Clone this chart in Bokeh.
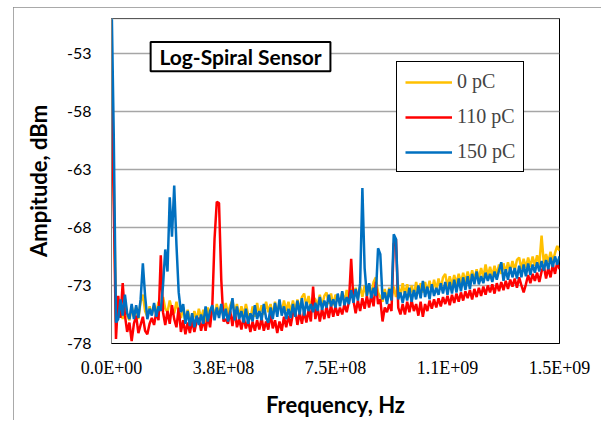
from bokeh.plotting import figure
from bokeh.models import Range1d, FixedTicker, BoxAnnotation, Label, Span
from bokeh.embed import file_html
from bokeh.resources import INLINE

# ---- data ----
freq_step_hz = 7.5e6
series_names = ["0 pC", "110 pC", "150 pC"]
series_colors = ["#FFC000", "#FF0000", "#0070C0"]

amp_0pc = [
    -53.0, -64.0, -76.0, -75.6, -74.5, -75.9, -74.2, -75.6, -76.0, -74.8,
    -75.7, -74.9, -75.9, -74.4, -73.8, -75.2, -75.7, -74.8, -75.5, -74.7,
    -75.4, -74.4, -75.2, -74.0, -75.0, -75.3, -74.3, -75.1, -75.4, -74.4,
    -75.3, -75.8, -74.9, -76.1, -75.1, -75.9, -76.2, -75.2, -76.0, -75.0,
    -75.9, -75.1, -76.1, -74.9, -75.8, -74.8, -75.7, -74.6, -75.5, -74.7,
    -75.6, -74.5, -75.5, -74.7, -74.3, -75.4, -74.6, -75.7, -74.8, -75.6,
    -74.6, -75.5, -75.9, -74.8, -75.7, -74.5, -75.6, -74.7, -75.5, -74.4,
    -75.3, -74.6, -75.6, -74.4, -75.4, -74.5, -75.3, -74.3, -75.2, -74.4,
    -75.3, -74.3, -75.2, -74.2, -75.1, -74.0, -73.7, -74.8, -73.9, -74.9,
    -74.0, -74.2, -74.7, -73.8, -74.8, -73.9, -73.6, -74.6, -73.7, -74.7,
    -73.8, -74.0, -74.5, -73.6, -74.4, -73.4, -74.3, -73.3, -74.2, -73.2,
    -74.1, -73.1, -74.0, -73.0, -73.9, -72.9, -73.8, -72.7, -72.3, -73.6,
    -74.0, -74.4, -73.3, -74.2, -73.2, -74.1, -73.1, -74.0, -73.0, -73.9,
    -72.8, -73.8, -72.9, -74.0, -73.0, -73.9, -72.7, -73.7, -72.8, -73.6,
    -72.7, -73.6, -72.6, -73.5, -72.5, -73.4, -72.4, -73.3, -72.3, -72.0,
    -73.1, -72.2, -73.0, -72.1, -72.9, -72.0, -72.8, -71.9, -72.7, -71.8,
    -72.6, -71.7, -72.5, -71.6, -72.4, -71.5, -72.3, -71.2, -72.2, -71.4,
    -72.2, -71.3, -72.1, -71.2, -72.0, -71.1, -71.9, -71.0, -71.8, -70.9,
    -71.7, -70.8, -70.6, -71.6, -70.7, -71.5, -70.6, -71.4, -70.5, -71.3,
    -70.4, -71.2, -68.7, -71.1, -70.3, -71.0, -70.1, -70.9, -70.2, -69.6, -70.0,
]

amp_110pc = [
    -56.0, -66.0, -77.6, -73.9, -75.8, -72.8, -75.6, -77.0, -76.2, -77.8,
    -76.3, -75.6, -77.1, -76.4, -75.7, -76.9, -77.2, -76.3, -75.8, -76.4,
    -75.3, -76.0, -70.4, -75.3, -76.4, -75.2, -76.3, -74.7, -75.9, -76.6,
    -74.9, -77.0, -76.0, -77.2, -76.2, -77.1, -76.0, -77.0, -76.1, -75.8,
    -76.9, -75.9, -76.9, -75.6, -76.6, -74.8, -69.0, -65.8, -65.9, -72.5,
    -76.1, -75.9, -76.3, -75.2, -76.5, -75.1, -76.6, -75.9, -76.8, -75.7,
    -76.7, -76.0, -77.0, -76.1, -76.9, -76.0, -76.8, -75.8, -76.9, -76.1,
    -76.8, -75.4, -76.7, -76.0, -77.1, -76.1, -76.9, -75.7, -76.6, -75.6,
    -76.5, -75.4, -75.1, -76.4, -75.3, -76.3, -75.2, -76.2, -75.1, -76.1,
    -73.1, -75.9, -74.9, -76.1, -75.0, -75.9, -74.8, -75.8, -74.7, -75.7,
    -74.8, -75.6, -74.9, -75.5, -74.6, -75.3, -74.4, -70.7, -74.3, -75.4,
    -74.3, -75.2, -74.1, -75.0, -73.9, -74.9, -73.8, -74.8, -72.7, -74.6,
    -74.2, -76.1, -74.9, -75.3, -74.6, -75.2, -69.4, -69.0, -74.9, -75.5,
    -74.6, -75.5, -74.4, -75.3, -74.3, -75.2, -74.6, -75.6, -74.4, -75.7,
    -74.6, -75.2, -74.3, -75.0, -74.2, -74.9, -74.1, -74.8, -74.0, -74.6,
    -73.9, -74.7, -73.8, -74.5, -73.7, -74.4, -73.6, -74.3, -73.5, -74.1,
    -73.4, -74.2, -73.3, -74.0, -73.2, -73.9, -73.1, -73.8, -73.0, -73.6,
    -72.9, -73.7, -72.8, -73.5, -72.7, -73.4, -72.6, -73.3, -72.5, -73.1,
    -72.4, -73.2, -72.3, -73.0, -73.6, -72.9, -72.1, -72.8, -72.0, -72.6,
    -71.9, -72.7, -71.8, -71.3, -72.4, -71.5, -72.3, -71.2, -72.0, -71.0, -71.6,
]

amp_150pc = [
    -48.0, -60.0, -76.2, -75.9, -74.2, -75.6, -73.8, -75.4, -75.9, -74.6,
    -75.9, -74.7, -75.8, -74.2, -71.1, -73.9, -75.9, -75.0, -75.6, -74.5,
    -75.7, -74.8, -75.2, -73.0, -69.9, -71.8, -65.4, -68.8, -64.4, -69.5,
    -73.6, -75.3, -74.6, -76.3, -75.2, -76.5, -75.4, -76.6, -75.6, -76.4,
    -75.5, -76.3, -74.8, -76.1, -75.2, -74.7, -76.0, -74.9, -75.8, -74.6,
    -75.9, -75.0, -76.1, -75.3, -74.1, -76.0, -74.8, -75.9, -75.2, -76.2,
    -75.0, -76.3, -75.4, -76.1, -74.7, -75.9, -75.2, -76.0, -74.6, -75.8,
    -76.2, -74.9, -75.9, -74.5, -75.7, -74.2, -75.6, -74.8, -75.9, -75.0,
    -75.8, -74.6, -75.7, -74.3, -75.5, -74.1, -75.6, -74.4, -75.2, -74.6,
    -75.3, -74.5, -75.2, -74.0, -75.1, -74.3, -74.9, -73.8, -74.8, -74.2,
    -74.9, -73.7, -74.8, -73.5, -74.7, -74.0, -74.6, -73.4, -74.5, -73.3,
    -74.3, -72.8, -64.6, -71.5, -73.9, -72.8, -74.1, -73.2, -73.9, -69.8,
    -70.3, -74.2, -73.6, -74.6, -73.3, -74.3, -68.6, -69.0, -74.2, -73.6,
    -74.5, -73.5, -74.3, -73.2, -74.4, -73.4, -74.2, -73.0, -74.1, -72.6,
    -74.0, -73.1, -74.2, -72.9, -73.9, -73.2, -73.8, -72.8, -73.7, -72.7,
    -73.8, -72.7, -73.7, -72.5, -73.6, -72.4, -73.5, -72.3, -73.4, -72.2,
    -73.3, -72.0, -72.9, -71.8, -72.9, -72.2, -72.8, -71.9, -72.6, -72.0,
    -72.7, -71.8, -72.5, -71.7, -71.0, -72.6, -71.6, -72.5, -71.4, -72.3,
    -71.5, -72.4, -71.3, -72.3, -71.2, -72.2, -71.1, -72.1, -71.2, -71.9,
    -71.0, -71.8, -70.9, -71.7, -70.8, -71.6, -70.6, -71.4, -70.5, -71.2, -70.5,
]

freq_hz = [i * freq_step_hz for i in range(len(amp_150pc))]

x_ticks = [0.0, 3.75e8, 7.5e8, 1.125e9, 1.5e9]
x_tick_labels = ["0.0E+00", "3.8E+08", "7.5E+08", "1.1E+09", "1.5E+09"]
y_ticks = [-78, -73, -68, -63, -58, -53]
y_tick_labels = ["-78", "-73", "-68", "-63", "-58", "-53"]

# ---- figure (placed at 13,7 inside the page; gray chart-area frame via CSS outline) ----
p = figure(width=588, height=413, output_backend="svg", toolbar_location=None,
           x_range=Range1d(0, 1.5e9), y_range=Range1d(-78, -50),
           min_border_left=98, min_border_right=42, min_border_top=11,
           min_border_bottom=77, background_fill_color="white",
           border_fill_color="white", margin=(7, 5, 3, 13),
           styles={"outline": "2px solid #8c8c8c", "outline-offset": "-2px"})

for amps, name, col in zip([amp_0pc, amp_110pc, amp_150pc], series_names, series_colors):
    p.line(freq_hz, amps, line_color=col, line_width=2.5, legend_label=name)

p.outline_line_color = "black"
p.outline_line_width = 1
p.xgrid.visible = False
p.ygrid.grid_line_color = "#a6a6a6"
p.ygrid.grid_line_width = 1.5
p.add_layout(Span(location=-50, dimension="width", line_color="#b0b0b0", line_width=1.5))

p.xaxis.ticker = FixedTicker(ticks=x_ticks)
p.xaxis.major_label_overrides = dict(zip(x_ticks, x_tick_labels))
p.yaxis.ticker = FixedTicker(ticks=y_ticks)
p.yaxis.major_label_overrides = dict(zip(y_ticks, y_tick_labels))

for ax in (p.xaxis[0], p.yaxis[0]):
    ax.major_tick_line_color = None
    ax.minor_tick_line_color = None
    ax.major_tick_out = 0
    ax.major_label_text_color = "black"
    ax.axis_label_text_color = "black"
    ax.axis_label_text_font_style = "bold"
    ax.axis_label_text_font = "Lato"
    ax.axis_label_text_font_size = "22px"

p.xaxis.axis_line_color = "black"
p.yaxis.axis_line_color = "#808080"
p.xaxis.major_label_text_font = "Liberation Serif"
p.xaxis.major_label_text_font_size = "18px"
p.xaxis.major_label_standoff = 14
p.yaxis.major_label_text_font = "Lato"
p.yaxis.major_label_text_font_size = "16px"
p.yaxis.major_label_standoff = 20
p.xaxis.axis_label = "Frequency, Hz"
p.yaxis.axis_label = "Ampitude, dBm"
p.xaxis.axis_label_standoff = 10
p.yaxis.axis_label_standoff = 12

# title box
p.add_layout(BoxAnnotation(left=1.31e8, right=7.33e8, top=-52.03, bottom=-54.54,
                           fill_color="white", fill_alpha=1.0,
                           line_color="black", line_alpha=1.0, line_width=2))
p.add_layout(Label(x=4.32e8, y=-53.3, text="Log-Spiral Sensor",
                   text_align="center", text_baseline="middle",
                   text_font="Lato", text_font_style="bold",
                   text_font_size="21px", text_color="black"))

# legend
lg = p.legend[0]
lg.location = (285, 171)
lg.glyph_width = 47
lg.glyph_height = 20
lg.label_height = 20
lg.spacing = 12
lg.padding = 8
lg.margin = 0
lg.label_standoff = 5
lg.border_line_color = "black"
lg.border_line_alpha = 1.0
lg.border_line_width = 1.5
lg.background_fill_alpha = 1.0
lg.label_text_font = "Liberation Serif"
lg.label_text_font_size = "20px"

open("out.html", "w").write(file_html(p, INLINE))
